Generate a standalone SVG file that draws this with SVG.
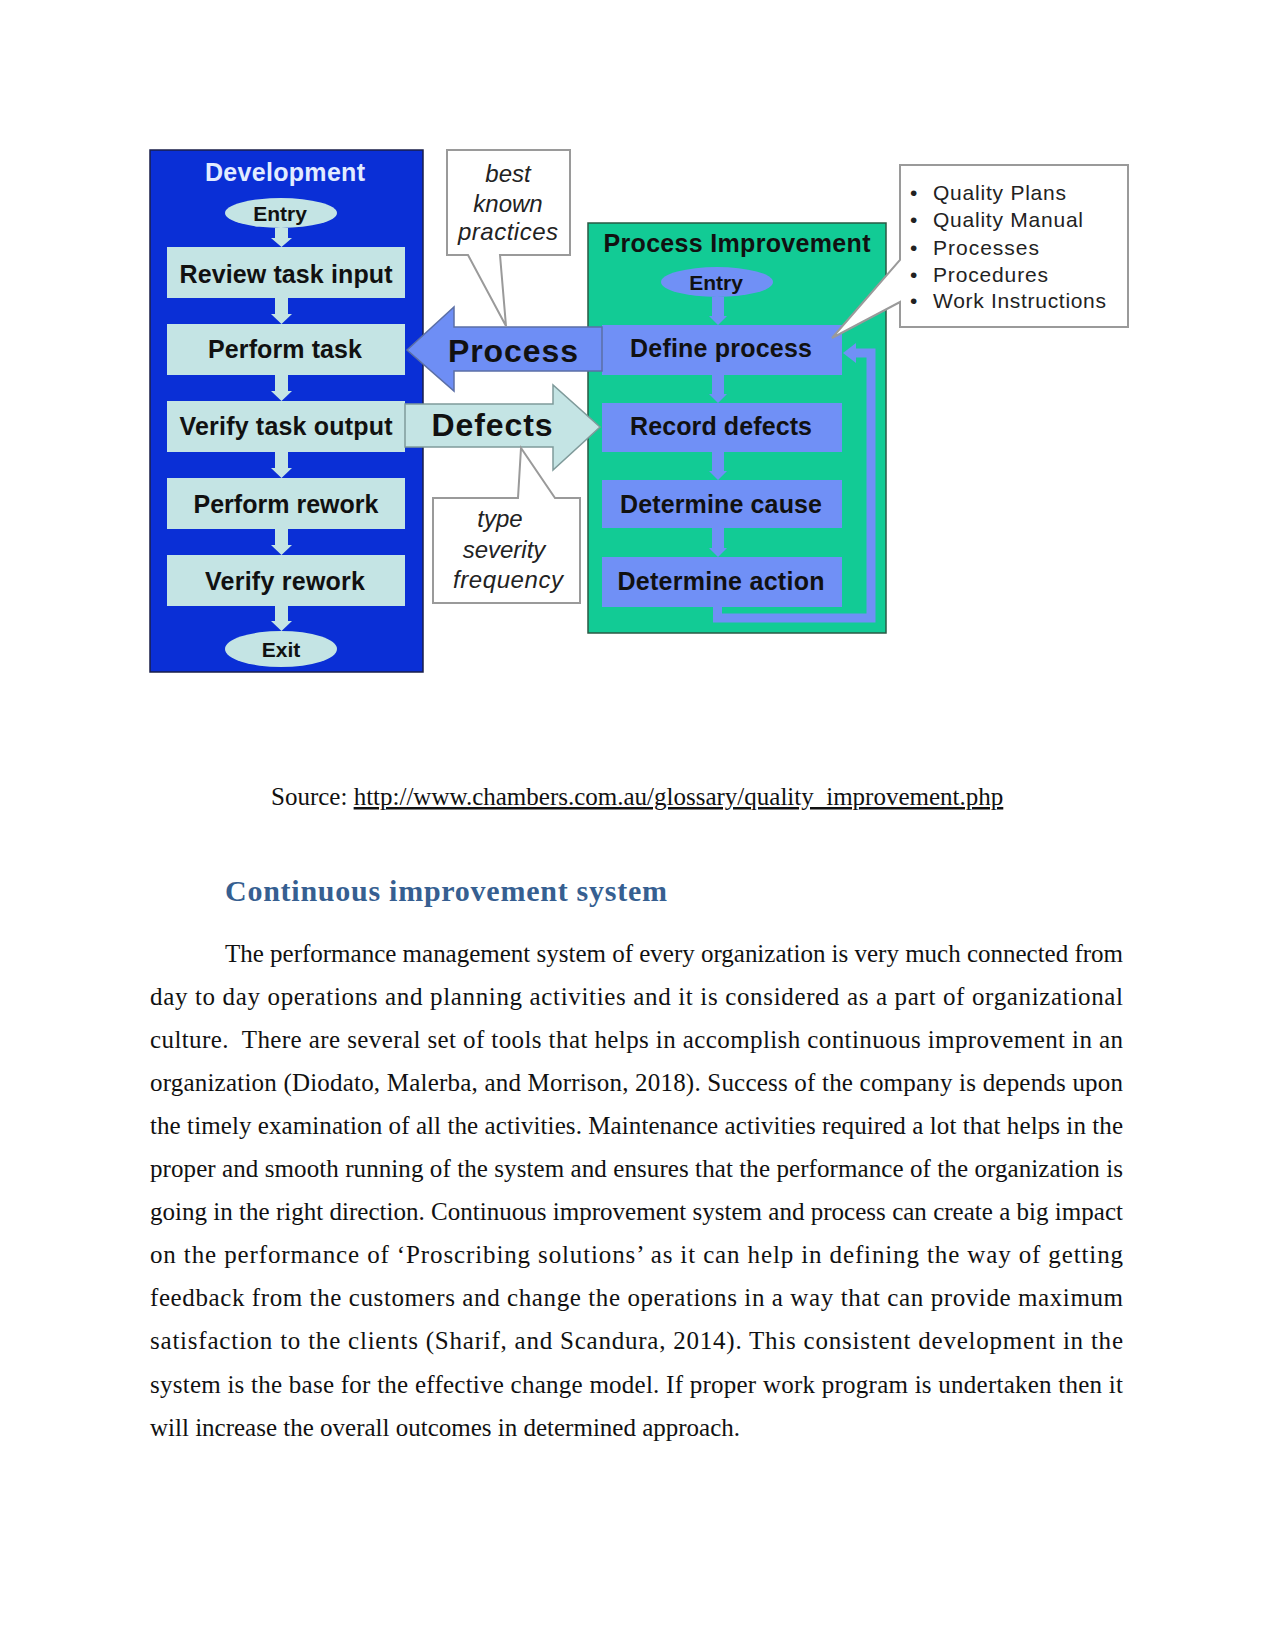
<svg xmlns="http://www.w3.org/2000/svg" width="1275" height="1650" viewBox="0 0 1275 1650">
<style>
.lbl{font-family:"Liberation Sans",Arial,sans-serif;font-weight:bold;font-size:25px;fill:#111;text-anchor:middle}
.ent{font-family:"Liberation Sans",Arial,sans-serif;font-weight:bold;font-size:21px;fill:#111;text-anchor:middle}
.big{font-family:"Liberation Sans",Arial,sans-serif;font-weight:bold;font-size:32px;fill:#111;text-anchor:middle}
.ital{font-family:"Liberation Sans",Arial,sans-serif;font-style:italic;font-size:24px;fill:#222;text-anchor:middle}
.lst{font-family:"Liberation Sans",Arial,sans-serif;font-size:21px;fill:#222}
.cy{fill:#c4e4e4}
.pw{fill:#7090f6}
.call{fill:#fff;stroke:#9a9a9a;stroke-width:2}
.body{font-family:"Liberation Serif","Times New Roman",serif;font-size:25px;fill:#111;white-space:pre}
</style>
<rect width="1275" height="1650" fill="#fff"/>

<g id="development">
<rect x="150" y="150" width="273" height="522" fill="#0a2fd6" stroke="#1a1f4a" stroke-width="1.5"/>
<text x="285" y="181" class="lbl" style="fill:#e2ecff" textLength="160">Development</text>
</g>
<g id="dev-entry"><ellipse cx="281" cy="213" rx="56" ry="15" class="cy"/><text x="280" y="221" class="ent">Entry</text></g>
<g id="review"><rect x="167" y="247" width="238" height="51" class="cy"/><text x="286" y="283" class="lbl" textLength="213">Review task input</text></g>
<g id="perform"><rect x="167" y="324" width="238" height="51" class="cy"/><text x="285" y="358" class="lbl" textLength="154">Perform task</text></g>
<g id="verify"><rect x="167" y="401" width="238" height="51" class="cy"/><text x="286" y="435" class="lbl" textLength="213">Verify task output</text></g>
<g id="rework"><rect x="167" y="478" width="238" height="51" class="cy"/><text x="286" y="513" class="lbl" textLength="185">Perform rework</text></g>
<g id="verify-rework"><rect x="167" y="555" width="238" height="51" class="cy"/><text x="285" y="590" class="lbl" textLength="160">Verify rework</text></g>
<g id="dev-exit"><ellipse cx="281" cy="649" rx="56" ry="18" class="cy"/><text x="281" y="657" class="ent">Exit</text></g>

<g id="improvement">
<rect x="588" y="223" width="298" height="410" fill="#12cb95" stroke="#2a5a44" stroke-width="1.5"/>
<text x="737" y="252" class="lbl" textLength="267">Process Improvement</text>
</g>
<g id="pi-entry"><ellipse cx="717" cy="282" rx="56" ry="15" class="pw"/><text x="716" y="290" class="ent">Entry</text></g>
<g id="define"><rect x="602" y="325" width="240" height="50" class="pw"/><text x="721" y="357" class="lbl" textLength="182">Define process</text></g>
<g id="record"><rect x="602" y="403" width="240" height="49" class="pw"/><text x="721" y="435" class="lbl" textLength="182">Record defects</text></g>
<g id="cause"><rect x="602" y="480" width="240" height="48" class="pw"/><text x="721" y="513" class="lbl" textLength="202">Determine cause</text></g>
<g id="action"><rect x="602" y="557" width="240" height="50" class="pw"/><text x="721" y="590" class="lbl" textLength="207">Determine action</text></g>

<g id="connectors">
<g class="cy">
<path d="M275,228 H288 V238 H292 L281.5,247 L271,238 H275 Z"/>
<path d="M275,298 H288 V314 H292 L281.5,324 L271,314 H275 Z"/>
<path d="M275,375 H288 V391 H292 L281.5,401 L271,391 H275 Z"/>
<path d="M275,452 H288 V468 H292 L281.5,478 L271,468 H275 Z"/>
<path d="M275,529 H288 V545 H292 L281.5,555 L271,545 H275 Z"/>
<path d="M275,606 H288 V621 H292 L281.5,631 L271,621 H275 Z"/>
</g>
<g class="pw">
<path d="M712,297 H724 V316 H727 L718,325 L709,316 H712 Z"/>
<path d="M712,375 H724 V394 H727 L718,403 L709,394 H712 Z"/>
<path d="M712,452 H724 V471 H727 L718,480 L709,471 H712 Z"/>
<path d="M712,528 H724 V548 H727 L718,557 L709,548 H712 Z"/>
</g>
<path d="M717.5,607 V618 H871 V353 H853" fill="none" stroke="#7090f6" stroke-width="9"/>
<polygon points="843,353 856,343 856,363" fill="#7090f6"/>
</g>

<g id="process-arrow">
<polygon points="407,350 454,307 454,327 602,327 602,371 454,371 454,391" fill="#6e8ef5" stroke="#5b6fa6" stroke-width="1.5"/>
<text x="513" y="362" class="big" textLength="130">Process</text>
</g>
<g id="defects-arrow">
<polygon points="405,404 553,404 553,385 600,427 553,470 553,447 405,447" fill="#c4e4e4" stroke="#7f9a9a" stroke-width="1.5"/>
<text x="492" y="436" class="big" textLength="121">Defects</text>
</g>

<g id="callout-practices">
<path d="M447,150 H570 V255 H500 L506,326 L468,255 H447 Z" class="call"/>
<text x="508" y="182" class="ital">best</text>
<text x="508" y="212" class="ital">known</text>
<text x="508" y="240" class="ital" textLength="100">practices</text>
</g>
<g id="callout-defects">
<path d="M433,498 H518 L521,448 L555,498 H580 V603 H433 Z" class="call"/>
<text x="500" y="527" class="ital">type</text>
<text x="504" y="558" class="ital">severity</text>
<text x="508" y="588" class="ital" textLength="110">frequency</text>
</g>
<g id="callout-quality">
<path d="M900,165 H1128 V327 H900 V302 L832,338 L900,260 Z" class="call"/>
<g class="lst">
<text x="910" y="200">•</text><text x="933" y="200" textLength="133">Quality Plans</text>
<text x="910" y="227">•</text><text x="933" y="227" textLength="150">Quality Manual</text>
<text x="910" y="255">•</text><text x="933" y="255" textLength="106">Processes</text>
<text x="910" y="282">•</text><text x="933" y="282" textLength="115">Procedures</text>
<text x="910" y="308">•</text><text x="933" y="308" textLength="173">Work Instructions</text>
</g>
</g>

<text x="271" y="805" class="body">Source: <tspan text-decoration="underline">http://www.chambers.com.au/glossary/quality_improvement.php</tspan></text>
<text x="225" y="901" font-family="'Liberation Serif','Times New Roman',serif" font-weight="bold" font-size="30" fill="#365f91" textLength="442">Continuous improvement system</text>

<g class="body">
<text x="225" y="961.5" textLength="898">The performance management system of every organization is very much connected from</text>
<text x="150" y="1004.6" textLength="973">day to day operations and planning activities and it is considered as a part of organizational</text>
<text x="150" y="1047.7" textLength="973" xml:space="preserve">culture.  There are several set of tools that helps in accomplish continuous improvement in an</text>
<text x="150" y="1090.8" textLength="973">organization (Diodato, Malerba, and Morrison, 2018). Success of the company is depends upon</text>
<text x="150" y="1133.9" textLength="973">the timely examination of all the activities. Maintenance activities required a lot that helps in the</text>
<text x="150" y="1177" textLength="973">proper and smooth running of the system and ensures that the performance of the organization is</text>
<text x="150" y="1220.1" textLength="973">going in the right direction. Continuous improvement system and process can create a big impact</text>
<text x="150" y="1263.2" textLength="973">on the performance of ‘Proscribing solutions’ as it can help in defining the way of getting</text>
<text x="150" y="1306.3" textLength="973">feedback from the customers and change the operations in a way that can provide maximum</text>
<text x="150" y="1349.4" textLength="973">satisfaction to the clients (Sharif, and Scandura, 2014). This consistent development in the</text>
<text x="150" y="1392.5" textLength="973">system is the base for the effective change model. If proper work program is undertaken then it</text>
<text x="150" y="1435.6">will increase the overall outcomes in determined approach.</text>
</g>
</svg>
